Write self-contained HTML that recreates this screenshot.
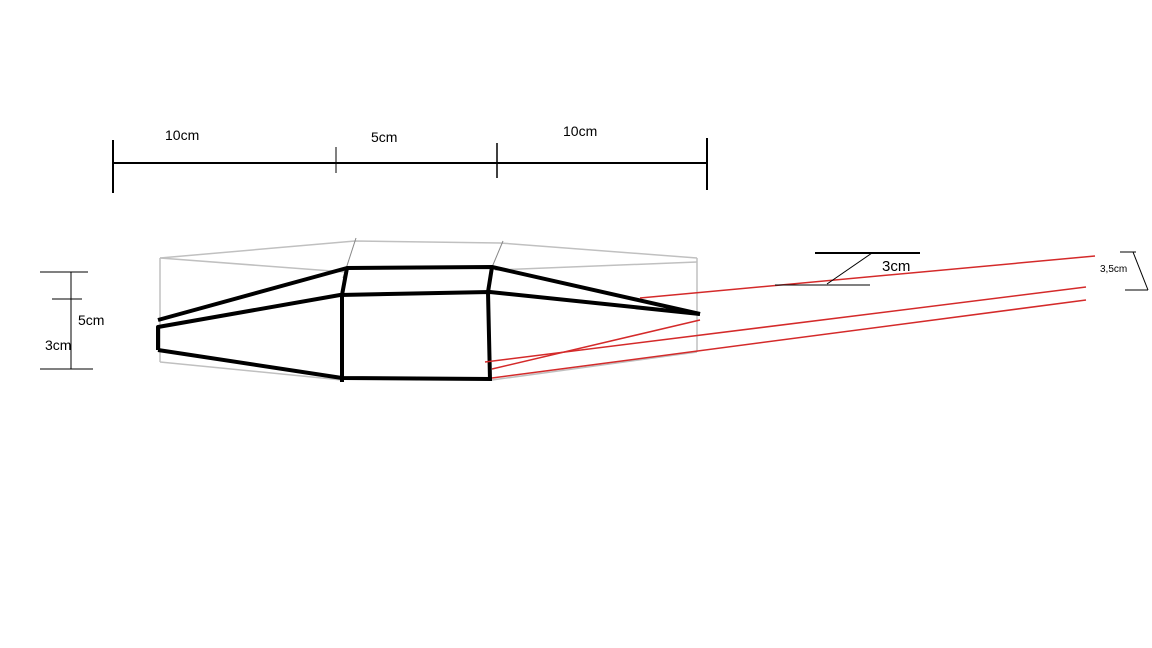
<!DOCTYPE html>
<html><head><meta charset="utf-8"><style>
html,body{margin:0;padding:0;background:#fff;}
svg{display:block}
text{font-family:"Liberation Sans",sans-serif;fill:#000}
</style></head><body>
<svg width="1152" height="648" viewBox="0 0 1152 648" xmlns="http://www.w3.org/2000/svg">
<rect width="1152" height="648" fill="#fff"/>
<!-- top dimension -->
<g stroke="#000" stroke-width="2" fill="none">
<line x1="113" y1="163" x2="707" y2="163"/>
<line x1="113" y1="140" x2="113" y2="193"/>
<line x1="336" y1="147" x2="336" y2="173" stroke-width="1"/>
<line x1="497" y1="143" x2="497" y2="178" stroke-width="1.5"/>
<line x1="707" y1="138" x2="707" y2="190"/>
</g>
<text x="165" y="140" font-size="14">10cm</text>
<text x="371" y="142" font-size="14">5cm</text>
<text x="563" y="136" font-size="14">10cm</text>
<!-- left dimension -->
<g stroke="#000" stroke-width="1" fill="none">
<line x1="40" y1="272" x2="88" y2="272"/>
<line x1="52" y1="299" x2="82" y2="299"/>
<line x1="40" y1="369" x2="93" y2="369"/>
<line x1="71" y1="272" x2="71" y2="369"/>
</g>
<text x="78" y="325" font-size="14">5cm</text>
<text x="45" y="350" font-size="14">3cm</text>
<!-- gray outline -->
<g stroke="#c0c0c0" stroke-width="1.5" fill="none">
<polyline points="160,258 355,241 500,243 697,258"/>
<line x1="160" y1="258" x2="345" y2="272"/>
<line x1="495" y1="270" x2="697" y2="262"/>
<line x1="160" y1="258" x2="160" y2="362"/>
<line x1="697" y1="258" x2="697" y2="352"/>
<line x1="160" y1="362" x2="342" y2="380"/>
<line x1="492" y1="380" x2="697" y2="352"/>
</g>
<g stroke="#888" stroke-width="1" fill="none">
<line x1="356" y1="238" x2="343" y2="278"/>
<line x1="503" y1="241" x2="490" y2="272"/>
</g>
<!-- black shape -->
<g stroke="#000" stroke-width="4" fill="none" stroke-linejoin="round">
<polyline points="158,320 347,268 492,267 700,314"/>
<polyline points="158,350 158,327 340,295 490,292 700,314"/>
<polyline points="158,350 342,378 492,379"/>
<polyline points="347,268 342,295 342,382"/>
<polyline points="492,267 488,292 490,380"/>
</g>
<!-- red lines -->
<g stroke="#d42a2a" stroke-width="1.5" fill="none">
<line x1="640" y1="298" x2="1095" y2="256"/>
<line x1="485" y1="362" x2="1086" y2="287"/>
<line x1="492" y1="378" x2="1086" y2="300"/>
<line x1="492" y1="369" x2="700" y2="320"/>
</g>
<!-- small annotation -->
<g stroke="#000" fill="none">
<line x1="815" y1="253" x2="920" y2="253" stroke-width="2"/>
<line x1="775" y1="285" x2="870" y2="285" stroke-width="1"/>
<line x1="827" y1="284" x2="872" y2="253" stroke-width="1"/>
<line x1="1120" y1="252" x2="1136" y2="252" stroke-width="1"/>
<line x1="1133" y1="252" x2="1148" y2="290" stroke-width="1"/>
<line x1="1125" y1="290" x2="1148" y2="290" stroke-width="1"/>
</g>
<text x="882" y="271" font-size="15">3cm</text>
<text x="1100" y="272" font-size="10">3,5cm</text>
</svg>
</body></html>
